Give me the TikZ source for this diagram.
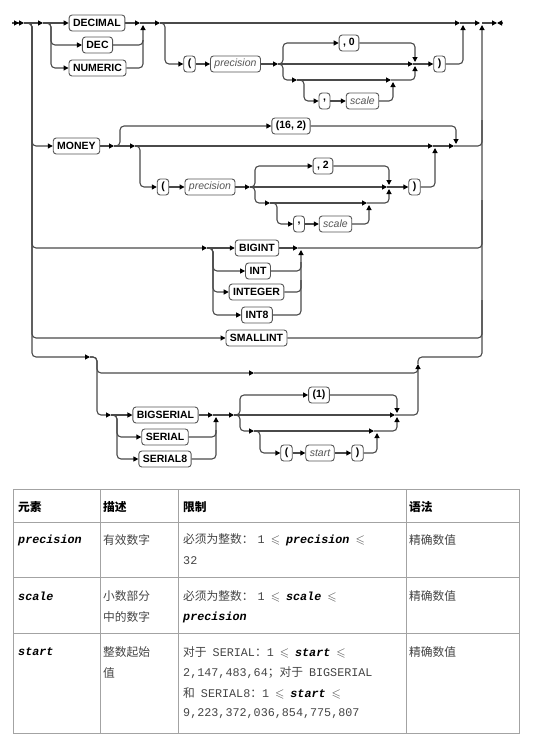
\documentclass[tikz,border=0pt]{standalone}
\usepackage{fontspec}
\usepackage{amssymb}
\setmainfont{Liberation Sans}
\setmonofont{Liberation Mono}
\newfontfamily\cjkfont{Noto Sans CJK SC}
\usetikzlibrary{arrows.meta}
\definecolor{railcol}{HTML}{4A4A4A}
\definecolor{boxcol}{HTML}{555555}
\definecolor{varcol}{HTML}{555555}
\definecolor{gridcol}{HTML}{A3A3A3}
\definecolor{txtcol}{HTML}{444444}
\newcommand\mono[1]{{\ttfamily #1}}
\newcommand\pname[1]{{\ttfamily\bfseries\itshape\color{black}#1}}
\newcommand\leqs{\hspace{6pt}{\large$\leqslant$}\hspace{6pt}}

\begin{document}
\begin{tikzpicture}[
    x=1pt, y=-1pt,
    >={Triangle[length=5pt,width=5pt,color=black]},
    rail/.style={draw=railcol, line width=1.1pt, rounded corners=4pt},
    kw/.style={draw=boxcol, line width=0.9pt, fill=white, rounded corners=3pt,
        minimum height=16pt, inner xsep=4pt, inner ysep=0pt,
        font=\fontsize{10.5}{12}\selectfont\bfseries},
    var/.style={kw, text=varcol, font=\fontsize{10.5}{12}\selectfont\itshape},
    grid/.style={draw=gridcol, line width=1pt},
    cell/.style={anchor=west, inner sep=0pt, text=txtcol,
        font=\fontsize{11.75}{14}\selectfont\cjkfont},
    head/.style={cell, text=black, font=\fontsize{11.75}{14}\selectfont\cjkfont\bfseries},
]
    \useasboundingbox (0,0) rectangle (544,744);

    \coordinate (in) at (24,23);
    \coordinate (out) at (497,23);

    \node[kw] (kDecimal) at (97,23) {DECIMAL};
    \node[kw] (kDec) at (97.5,45) {DEC};
    \node[kw] (kNumeric) at (97.5,68) {NUMERIC};
    \node[kw] (lpA) at (189.5,64) {(};
    \node[var] (precA) at (235.5,64) {precision};
    \node[kw] (zeroA) at (349,43) {, 0};
    \node[kw] (commaA) at (324.5,101) {,};
    \node[var] (scaleA) at (362.5,101) {scale};
    \node[kw] (rpA) at (439.5,64) {)};

    \node[kw] (kMoney) at (76.5,146) {MONEY};
    \node[kw] (sixteen) at (291,126) {(16, 2)};
    \node[kw] (lpB) at (163,187) {(};
    \node[var] (precB) at (210,187) {precision};
    \node[kw] (twoB) at (323,166) {, 2};
    \node[kw] (commaB) at (299,224) {,};
    \node[var] (scaleB) at (335.5,224) {scale};
    \node[kw] (rpB) at (414.5,187) {)};

    \node[kw] (kBigint) at (257,248) {BIGINT};
    \node[kw] (kInt) at (258,271) {INT};
    \node[kw] (kInteger) at (256.5,292) {INTEGER};
    \node[kw] (kInt8) at (257,315) {INT8};
    \node[kw] (kSmallint) at (256.5,338) {SMALLINT};

    \node[kw] (kBigserial) at (165.5,415) {BIGSERIAL};
    \node[kw] (kSerial) at (165,437) {SERIAL};
    \node[kw] (kSerial8) at (165,459) {SERIAL8};
    \node[kw] (one) at (319,395) {(1)};
    \node[kw] (lpC) at (286.5,453) {(};
    \node[var] (startC) at (320,453) {start};
    \node[kw] (rpC) at (357.5,453) {)};

    \draw[rail, -{Triangle[length=5pt,width=5pt,color=black] Triangle[length=5pt,width=5pt,color=black]}] (12,23) -- (in);
    \draw[rail,->] (482,23) -- (out);
    \draw[rail,->] (503,23) -- (out);

    \draw[rail,->] (in) -- (43,23);
    \draw[rail,->] (43,23) -- (kDecimal);
    \draw[rail,->] (46,23) -- (51,23) |- (kDec.west);
    \draw[rail,->] (46,23) -- (51,23) |- (kNumeric.west);
    \draw[rail,->] (kDecimal) -- (140,23);
    \draw[rail] (kDec.east) -| (143,40);
    \draw[rail,->] (kNumeric.east) -| (143,25);
    \draw[rail,->] (140,23) -- (160,23);
    \draw[rail,->] (160,23) -- (460,23);
    \draw[rail,->] (160,23) -- (165,23) |- (lpA.west);
    \draw[rail,->] (lpA) -- (precA);
    \draw[rail,->] (precA) -- (278,64);
    \draw[rail,->] (278,64) -- (283,64) |- (zeroA.west);
    \draw[rail,->] (278,64) -- (413,64);
    \draw[rail,->] (278,64) -- (283,64) |- (297,80);
    \draw[rail,->] (297,80) -- (391,80);
    \draw[rail,->] (297,80) -- (304,80) |- (commaA.west);
    \draw[rail,->] (commaA) -- (scaleA);
    \draw[rail,->] (scaleA.east) -| (393,82);
    \draw[rail,->] (391,80) -| (415,66);
    \draw[rail,->] (zeroA.east) -| (415,62);
    \draw[rail,->] (413,64) -- (rpA);
    \draw[rail,->] (rpA.east) -| (463,25);
    \draw[rail,->] (460,23) -- (480,23);

    \draw[rail,->] (in) -- (32,23) |- (kMoney.west);
    \draw[rail,->] (kMoney) -- (114,146);
    \draw[rail,->] (114,146) -- (120,146) |- (sixteen.west);
    \draw[rail,->] (114,146) -- (135,146);
    \draw[rail,->] (135,146) -- (433,146);
    \draw[rail,->] (433,146) -- (454,146);
    \draw[rail,->] (sixteen.east) -| (456,144);
    \draw[rail] (454,146) -| (482,120);
    \draw[rail,->] (135,146) -- (140,146) |- (lpB.west);
    \draw[rail,->] (lpB) -- (precB);
    \draw[rail,->] (precB) -- (250,187);
    \draw[rail,->] (250,187) -- (255,187) |- (twoB.west);
    \draw[rail,->] (250,187) -- (387,187);
    \draw[rail,->] (250,187) -- (255,187) |- (270,203);
    \draw[rail,->] (270,203) -- (367,203);
    \draw[rail,->] (270,203) -- (277,203) |- (commaB.west);
    \draw[rail,->] (commaB) -- (scaleB);
    \draw[rail,->] (scaleB.east) -| (369,205);
    \draw[rail,->] (367,203) -| (389,189);
    \draw[rail,->] (twoB.east) -| (389,185);
    \draw[rail,->] (387,187) -- (rpB);
    \draw[rail,->] (rpB.east) -| (435,148);

    \draw[rail,->] (in) -- (32,23) |- (207,248);
    \draw[rail,->] (207,248) -- (kBigint);
    \draw[rail,->] (207,248) -- (213,248) |- (kInt.west);
    \draw[rail,->] (207,248) -- (213,248) |- (kInteger.west);
    \draw[rail,->] (207,248) -- (213,248) |- (kInt8.west);
    \draw[rail,->] (kBigint) -- (298,248);
    \draw[rail,->] (kInt.east) -| (301,250);
    \draw[rail] (kInteger.east) -| (301,262);
    \draw[rail] (kInt8.east) -| (301,280);
    \draw[rail] (298,248) -| (482,200);
    \draw[rail,->] (in) -- (32,23) |- (kSmallint.west);
    \draw[rail] (kSmallint.east) -| (482,300);

    \draw[rail,->] (in) -- (32,23) |- (90,357);
    \draw[rail,->] (90,357) -- (97,357) |- (254,373);
    \draw[rail] (254,373) -| (418,366);
    \draw[rail,->] (90,357) -- (97,357) |- (111,415);
    \draw[rail,->] (111,415) -- (kBigserial);
    \draw[rail,->] (111,415) -- (117,415) |- (kSerial.west);
    \draw[rail,->] (111,415) -- (117,415) |- (kSerial8.west);
    \draw[rail,->] (kBigserial) -- (213,415);
    \draw[rail,->] (kSerial.east) -| (216,417);
    \draw[rail] (kSerial8.east) -| (216,430);
    \draw[rail,->] (213,415) -- (234,415);
    \draw[rail,->] (234,415) -- (240,415) |- (one.west);
    \draw[rail,->] (234,415) -- (395,415);
    \draw[rail,->] (234,415) -- (240,415) |- (254,431);
    \draw[rail,->] (254,431) -- (374,431);
    \draw[rail,->] (254,431) -- (260,431) |- (lpC.west);
    \draw[rail,->] (lpC) -- (startC);
    \draw[rail,->] (startC) -- (rpC);
    \draw[rail,->] (rpC.east) -| (377,433);
    \draw[rail,->] (374,431) -| (397,417);
    \draw[rail,->] (one.east) -| (397,413);
    \draw[rail,->] (395,415) -| (418,364);
    \draw[rail,->] (418,364) |- (482,357) -- (482,25);

    % table
    \draw[grid] (13,489) rectangle (519,733);
    \foreach \y in {522,577,633} \draw[grid] (13,\y) -- (519,\y);
    \foreach \x in {100,178,406} \draw[grid] (\x,489) -- (\x,733);

    \node[head] (h1) at (18,507) {元素};
    \node[head] (h2) at (103,507) {描述};
    \node[head] (h3) at (183,507) {限制};
    \node[head] (h4) at (409,507) {语法};

    \node[cell] (a1) at (18,540) {\pname{precision}};
    \node[cell] (b1) at (103,540) {有效数字};
    \node[cell] (c1) at (183,540) {必须为整数：\hspace{4pt}\mono{1}\leqs\pname{precision}\leqs};
    \node[cell] (c1b) at (183,561) {\mono{32}};
    \node[cell] (d1) at (409,540) {精确数值};

    \node[cell] (a2) at (18,596) {\pname{scale}};
    \node[cell] (b2) at (103,596) {小数部分};
    \node[cell] (b2b) at (103,617) {中的数字};
    \node[cell] (c2) at (183,596) {必须为整数：\hspace{4pt}\mono{1}\leqs\pname{scale}\leqs};
    \node[cell] (c2b) at (183,617) {\pname{precision}};
    \node[cell] (d2) at (409,596) {精确数值};

    \node[cell] (a3) at (18,652) {\pname{start}};
    \node[cell] (b3) at (103,652) {整数起始};
    \node[cell] (b3b) at (103,673) {值};
    \node[cell] (c3) at (183,652) {对于\hspace{6pt}\mono{SERIAL}：\mono{1}\leqs\pname{start}\leqs};
    \node[cell] (c3b) at (183,673) {\mono{2,147,483,64}；对于\hspace{6pt}\mono{BIGSERIAL}};
    \node[cell] (c3c) at (183,693) {和\hspace{6pt}\mono{SERIAL8}：\mono{1}\leqs\pname{start}\leqs};
    \node[cell] (c3d) at (183,714) {\mono{9,223,372,036,854,775,807}};
    \node[cell] (d3) at (409,652) {精确数值};
\end{tikzpicture}
\end{document}
